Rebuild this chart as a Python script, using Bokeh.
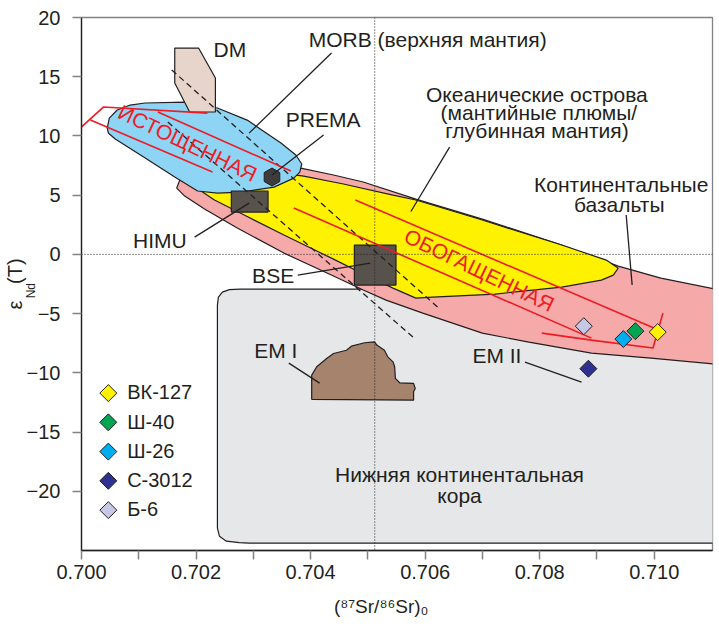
import numpy as np
from bokeh.plotting import figure
from bokeh.models import Range1d, FixedTicker, PrintfTickFormatter, Label, Span, LinearAxis
from bokeh.embed import file_html
from bokeh.resources import INLINE

FONT = "Liberation Sans"
INK = "#231f20"
RED = "#ed1c24"
NB = "\u00a0"

# ---------------- data ----------------
samples = ["ВК-127", "Ш-40", "Ш-26", "С-3012", "Б-6"]
sample_sr = [0.71006, 0.70967, 0.70946, 0.70885, 0.70877]
sample_nd = [-6.56, -6.48, -7.15, -9.65, -6.06]
sample_colors = ["#fff200", "#00a651", "#00aeef", "#2e3192", "#c7c8e6"]

# lower continental crust field
crust_sr = [0.702373, 0.702390, 0.702460, 0.702581, 0.702772, 0.7115, 0.7115,
            0.702927, 0.702754, 0.702529, 0.702408, 0.702373]
crust_nd = [-4.28, -3.61, -3.19, -2.98, -2.93, -2.93, -24.38,
            -24.38, -24.34, -24.21, -23.79, -23.11]

# continental basalts field
cb_sr = [0.701663, 0.701715, 0.701975, 0.702668, 0.703361, 0.703828, 0.704400, 0.704919,
         0.705838, 0.706998, 0.708384, 0.709371, 0.710116, 0.711069, 0.711069,
         0.709943, 0.708904, 0.707812, 0.706998, 0.705959, 0.705318, 0.704919,
         0.704400, 0.703534, 0.702720, 0.702148, 0.701802]
cb_nd = [5.60, 6.27, 6.78, 7.04, 7.20, 7.29, 6.70, 6.11,
         4.67, 2.98, 0.79, -0.99, -2.00, -2.93, -9.26,
         -8.76, -8.34, -7.41, -6.65, -4.96, -3.86, -3.01,
         -1.83, 0.11, 2.22, 3.83, 4.92]

# oceanic islands field
oib_sr = [0.702061, 0.702148, 0.703014, 0.703620, 0.703880, 0.704573, 0.705439, 0.705838,
          0.706998, 0.708384, 0.709163, 0.709371, 0.709285, 0.709077, 0.708384,
          0.707223, 0.706132, 0.705838, 0.705439, 0.704919, 0.704400, 0.703534,
          0.702841, 0.702321]
oib_nd = [5.43, 6.02, 6.27, 6.78, 6.61, 5.94, 5.01, 4.59,
          2.90, 0.79, -0.48, -1.16, -1.75, -2.17, -2.76,
          -3.35, -3.61, -3.69, -2.85, -1.66, -0.40, 1.63,
          3.32, 4.59]

# MORB field
morb_sr = [0.700450, 0.700485, 0.700624, 0.700849, 0.701109, 0.701802, 0.702373, 0.702893,
           0.703482, 0.703742, 0.703846, 0.703811, 0.703707, 0.703361, 0.702789,
           0.702373, 0.702027, 0.701628, 0.701057, 0.700589, 0.700468]
morb_nd = [10.67, 11.51, 12.19, 12.61, 12.78, 12.86, 12.36, 11.34,
           9.40, 8.39, 7.63, 6.95, 6.44, 5.68, 5.26,
           5.18, 5.35, 6.53, 8.30, 9.74, 10.25]

# DM field
dm_sr = [0.701628, 0.702044, 0.702338, 0.702338, 0.701888, 0.701628]
dm_nd = [17.42, 17.42, 14.89, 12.02, 12.02, 14.47]

# EM I field
em1_sr = [0.704019, 0.704019, 0.704107, 0.704280, 0.704400, 0.704626, 0.704712, 0.704943,
          0.705116, 0.705156, 0.705289, 0.705347, 0.705439, 0.705468, 0.705480,
          0.705555, 0.705798, 0.705827, 0.705798, 0.705798]
em1_nd = [-12.24, -10.19, -9.49, -8.79, -8.37, -8.09, -7.75, -7.46,
          -7.38, -7.66, -8.09, -8.65, -9.07, -9.49, -10.47,
          -10.84, -10.89, -11.32, -11.60, -12.31]

# end-member boxes (HIMU, BSE) and PREMA
box_left = [0.702616, 0.704764]
box_right = [0.703257, 0.705491]
box_top = [5.35, 0.79]
box_bottom = [3.57, -2.59]
prema_sr = [0.703326]
prema_nd = [6.53]

# mantle array (dashed)
array_sr = [[0.701576, 0.706219], [0.701507, 0.705786]]
array_nd = [[15.57, -4.45], [11.17, -6.98]]

# BSE reference lines
bse_sr = 0.70512
bse_nd = 0.0

# red trend arrows
arrow_sr = [[0.699983, 0.700381, 0.702200],
            [0.700156, 0.702287],
            [0.701334, 0.703655],
            [0.704781, 0.709995],
            [0.703707, 0.708904],
            [0.708037, 0.708904, 0.709978, 0.710151]]
arrow_nd = [[10.68, 12.44, 11.93],
            [11.34, 6.95],
            [12.02, 7.04],
            [4.59, -6.22],
            [3.91, -7.07],
            [-6.65, -7.24, -7.91, -4.96]]

# leader lines
lead_x0 = [0.704365, 0.704227, 0.701975, 0.703776, 0.706427, 0.709510, 0.703620, 0.707743]
lead_y0 = [17.00, 10.08, 1.46, -1.75, 9.06, 3.32, -9.18, -9.10]
lead_x1 = [0.702927, 0.703326, 0.702927, 0.705041, 0.705751, 0.709614, 0.704157, 0.708730]
lead_y1 = [10.24, 6.70, 4.33, -0.73, 3.62, -2.59, -10.87, -10.79]

# annotation texts: text, x, y (baseline), align
notes = [
    ("DM", 0.702304, 17.34, "left"),
    ("MORB (верхняя мантия)", 0.703967, 18.18, "left"),
    ("PREMA", 0.703568, 11.40, "left"),
    ("HIMU", 0.700901, 1.18, "left"),
    ("BSE", 0.702979, -1.77, "left"),
    ("Океанические острова", 0.707951, 13.51, "center"),
    ("(мантийные плюмы/", 0.707985, 11.99, "center"),
    ("глубинная мантия)", 0.707951, 10.47, "center"),
    ("Континентальные", 0.709423, 5.91, "center"),
    ("базальты", 0.709388, 4.22, "center"),
    ("EM I", 0.703014, -8.11, "left"),
    ("EM II", 0.706825, -8.53, "left"),
    ("Нижняя континентальная", 0.706600, -18.57, "center"),
    ("кора", 0.706600, -20.35, "center"),
]
trend_notes = [
    ("ИСТОЩЕННАЯ", 0.701853, 9.40, -0.445),
    ("ОБОГАЩЕННАЯ", 0.706946, -1.33, -0.450),
]

x_major = [0.700, 0.702, 0.704, 0.706, 0.708, 0.710]
x_minor = [0.701, 0.703, 0.705, 0.707, 0.709]
y_ticks = [-20, -15, -10, -5, 0, 5, 10, 15, 20]

x_title = "(\u2078\u2077Sr/\u2078\u2076Sr)\u2080"
y_title_main = "\u03b5" + NB * 3 + "(T)"
y_title_sub = "Nd"

# ---------------- figure ----------------
p = figure(width=719, height=626, x_range=Range1d(0.700, 0.711017), y_range=Range1d(-25, 20),
           output_backend="svg", toolbar_location=None,
           min_border_left=76, min_border_right=7, min_border_top=17, min_border_bottom=76)
p.grid.visible = False
p.outline_line_color = "#808285"
p.outline_line_width = 1.3

p.xaxis.ticker = FixedTicker(ticks=x_major, minor_ticks=x_minor)
p.xaxis.formatter = PrintfTickFormatter(format="%.3f")
p.yaxis.ticker = FixedTicker(ticks=y_ticks)
p.yaxis.major_label_overrides = {t: str(t).replace("-", "\u2212") for t in y_ticks}
for ax in (p.xaxis[0], p.yaxis[0]):
    ax.axis_line_color = INK
    ax.axis_line_width = 1.3
    ax.major_tick_line_color = "#808285"
    ax.major_tick_line_width = 1.5
    ax.major_tick_out = 9
    ax.major_tick_in = 0
    ax.minor_tick_out = 9
    ax.minor_tick_in = 0
    ax.major_label_text_font = FONT
    ax.major_label_text_font_size = "20px"
    ax.major_label_text_color = INK
    ax.axis_label_text_font = FONT
    ax.axis_label_text_font_style = "normal"
    ax.axis_label_text_color = INK
p.xaxis.minor_tick_line_color = "#808285"
p.xaxis.minor_tick_line_width = 1.5
p.yaxis.minor_tick_line_color = None
p.xaxis.major_label_standoff = 5
p.yaxis.major_label_standoff = 12

# axis titles
p.xaxis.axis_label = x_title + NB * 6
p.xaxis.axis_label_text_font_size = "19px"
p.xaxis.axis_label_standoff = 14
p.yaxis.axis_label = y_title_sub + NB * 4
p.yaxis.axis_label_text_font_size = "12px"
p.yaxis.axis_label_standoff = -14

ytitle = LinearAxis(ticker=FixedTicker(ticks=[]), axis_label=y_title_main)
ytitle.axis_line_color = None
ytitle.major_tick_line_color = None
ytitle.minor_tick_line_color = None
ytitle.major_tick_out = 0
ytitle.minor_tick_out = 0
ytitle.major_tick_in = 0
ytitle.minor_tick_in = 0
ytitle.major_label_standoff = 0
ytitle.axis_label_standoff = -5
ytitle.axis_label_text_font = FONT
ytitle.axis_label_text_font_size = "20px"
ytitle.axis_label_text_font_style = "normal"
ytitle.axis_label_text_color = INK
p.add_layout(ytitle, "left")

# fields
p.patch(crust_sr, crust_nd, fill_color="#e6e7e8", line_color=INK, line_width=1.2)
p.patch(cb_sr, cb_nd, fill_color="#f6a9a9", line_color=INK, line_width=1.2)
p.patch(oib_sr, oib_nd, fill_color="#fff200", line_color=INK, line_width=1.2)
p.patch(morb_sr, morb_nd, fill_color="#8ed4f4", line_color=INK, line_width=1.2)
p.patch(dm_sr, dm_nd, fill_color="#e7d4cb", line_color=INK, line_width=1.2)
p.patch(em1_sr, em1_nd, fill_color="#a6836d", line_color=INK, line_width=1.2)

p.quad(left=box_left, right=box_right, top=box_top, bottom=box_bottom,
       fill_color="#58524c", line_color=INK, line_width=1.2)
p.scatter(prema_sr, prema_nd, marker="hex", size=18, angle=np.pi / 6,
          fill_color="#3e3c3b", line_color=INK, line_width=1)

p.multi_line(array_sr, array_nd, line_color=INK, line_width=1.3, line_dash="6 4")
p.add_layout(Span(location=bse_sr, dimension="height", line_color=INK, line_width=1, line_dash="1 2"))
p.add_layout(Span(location=bse_nd, dimension="width", line_color=INK, line_width=1, line_dash="1 2"))

p.multi_line(arrow_sr, arrow_nd, line_color=RED, line_width=1.6)
p.segment(lead_x0, lead_y0, lead_x1, lead_y1, line_color=INK, line_width=1.3)

# samples
p.scatter(sample_sr, sample_nd, marker="square", size=12, angle=np.pi / 4,
          fill_color=sample_colors, line_color=INK, line_width=1)

# legend (manual)
leg_x = 0.700468
leg_y0 = -11.71
leg_step = 2.47
leg_y = [leg_y0 - i * leg_step for i in range(len(samples))]
p.scatter([leg_x] * len(samples), leg_y, marker="square", size=12, angle=np.pi / 4,
          fill_color=sample_colors, line_color=INK, line_width=1)
for s, yy in zip(samples, leg_y):
    p.add_layout(Label(x=0.700797, y=yy + 0.06, text=s, text_font=FONT, text_font_size="20px",
                       text_color=INK, text_align="left", text_baseline="alphabetic"))

for t, xx, yy, al in notes:
    p.add_layout(Label(x=xx, y=yy, text=t, text_font=FONT, text_font_size="21px",
                       text_color=INK, text_align=al, text_baseline="alphabetic"))

for t, xx, yy, ang in trend_notes:
    p.add_layout(Label(x=xx, y=yy, text=t, angle=ang, text_font=FONT, text_font_size="21px",
                       text_color=RED, text_align="center", text_baseline="middle"))

open("out.html", "w").write(file_html(p, INLINE))
